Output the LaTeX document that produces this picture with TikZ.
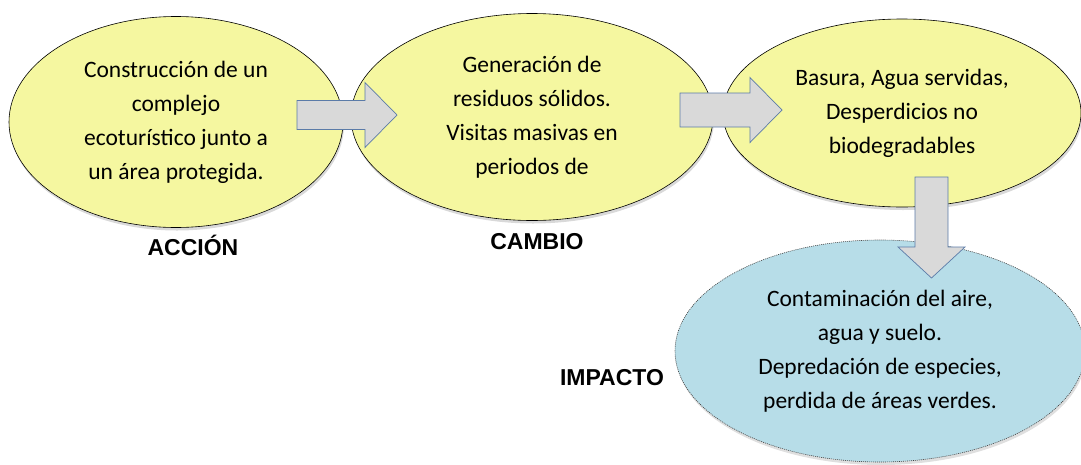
\documentclass[tikz,border=0pt]{standalone}
\usepackage{fontspec}
\setmainfont{Carlito}
\newfontfamily\labfont{Liberation Sans}
\usetikzlibrary{shapes.geometric,shadows}
\definecolor{ylw}{HTML}{F5F7A0}
\definecolor{blu}{HTML}{B7DDE8}
\definecolor{arrfill}{HTML}{D9D9D9}
\definecolor{arrline}{HTML}{5B7BA8}
\tikzset{
  oval/.style={ellipse, draw=black, line width=0.6pt, fill=ylw, inner sep=0pt,
    align=center, font=\fontsize{23.5}{34}\selectfont,
    drop shadow={opacity=0.3, shadow xshift=1pt, shadow yshift=-3pt}},
  impactoval/.style={ellipse, draw=black!75, line width=0.6pt, dash pattern=on 1pt off 1pt,
    fill=blu, inner sep=0pt, align=center, font=\fontsize{23.5}{34}\selectfont,
    drop shadow={opacity=0.25, shadow xshift=1pt, shadow yshift=-3pt}},
  blockarrow/.style={draw=arrline, line width=0.7pt, fill=arrfill, line join=miter},
  lab/.style={font=\labfont\bfseries\fontsize{23}{26}\selectfont, inner sep=0pt}
}
\begin{document}
\begin{tikzpicture}[x=1pt,y=-1pt]
\useasboundingbox (0,0) rectangle (1081,464);
% ellipses
\node[oval, minimum width=334pt, minimum height=211pt] (accion) at (176,122)
  {Construcción de un\\complejo\\ecoturístico junto a\\un área protegida.};
\node[oval, minimum width=362pt, minimum height=207pt] (cambio) at (532,117)
  {Generación de\\residuos sólidos.\\Visitas masivas en\\periodos de};
\node[oval, minimum width=358pt, minimum height=188pt] (efecto) at (902,113)
  {Basura, Agua servidas,\\Desperdicios no\\biodegradables};
\node[impactoval, minimum width=410pt, minimum height=222pt] (impacto) at (880,351)
  {Contaminación del aire,\\agua y suelo.\\Depredación de especies,\\perdida de áreas verdes.};
% block arrows (tails)
\coordinate (a1) at (297,115);
\coordinate (a2) at (680,110);
\coordinate (a3) at (931.5,177);
\draw[blockarrow] (a1) ++(0,-14.5) -- ++(68,0) -- ++(0,-18) -- ++(32,32.5)
  -- ++(-32,32.5) -- ++(0,-18) -- ++(-68,0) -- cycle;
\draw[blockarrow] (a2) ++(0,-17) -- ++(70,0) -- ++(0,-15.5) -- ++(32,32.5)
  -- ++(-32,32.5) -- ++(0,-15.5) -- ++(-70,0) -- cycle;
\draw[blockarrow] (a3) ++(-16.5,0) -- ++(0,70) -- ++(-17,0) -- ++(33.5,31)
  -- ++(33.5,-31) -- ++(-17,0) -- ++(0,-70) -- cycle;
% labels
\node[lab] (l1) at (193,245) {ACCIÓN};
\node[lab] (l2) at (537,242) {CAMBIO};
\node[lab] (l3) at (612,378) {IMPACTO};
\end{tikzpicture}
\end{document}
